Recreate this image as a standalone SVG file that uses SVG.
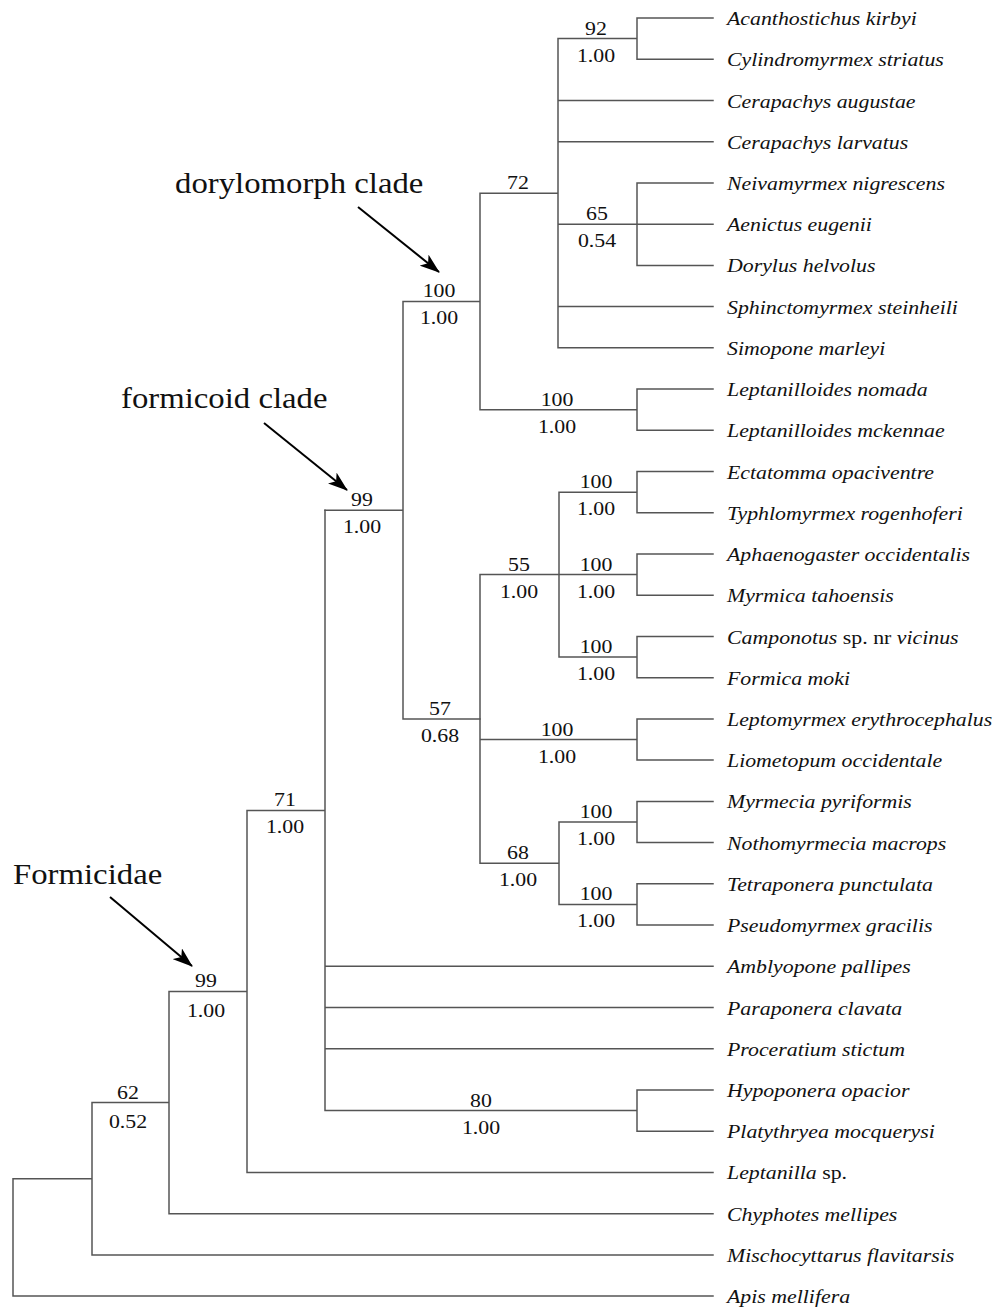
<svg xmlns="http://www.w3.org/2000/svg" width="996" height="1309" viewBox="0 0 996 1309">
<style>
.br{fill:none;stroke:#555;stroke-width:1.5;stroke-linecap:square}
.tip{font-family:"Liberation Serif","Times New Roman",serif;font-style:italic;font-size:19.5px;fill:#111}
.rm{font-style:normal}
.sv{font-family:"Liberation Serif","Times New Roman",serif;font-size:19.5px;fill:#111;text-anchor:middle}
.big{font-family:"Liberation Serif","Times New Roman",serif;font-size:29px;fill:#111}
.arr{fill:none;stroke:#000;stroke-width:2}
</style>
<defs>
<marker id="ah" viewBox="0 0 20 14" refX="19" refY="7" markerWidth="20" markerHeight="14" orient="auto" markerUnits="userSpaceOnUse">
<path d="M0,0 L20,7 L0,14 L5,7 z" fill="#000"/>
</marker>
</defs>
<rect width="996" height="1309" fill="#fff"/>
<g id="connectors">
<path class="br" d="M13,1178.7V1296.1H713M13,1178.7H92M92,1102.5V1254.9H713M92,1102.5H169M169,991.4V1213.7H713M169,991.4H247M247,810.4V1172.4H713M247,810.4H325M325,510.2V1110.6H637M325,966.3H713M325,1007.5H713M325,1048.8H713M637,1090V1131.2M637,1090H713M637,1131.2H713"/>
<path class="br" d="M325,510.2H403M403,301.45V718.9H480M403,301.45H480M480,193.2V409.7H637M480,193.2H558M558,38.6V347.8H713M558,38.6H637M637,18V59.2M637,18H713M637,59.2H713M558,100.5H713M558,141.7H713M558,306.6H713M558,224.2H713M637,182.9V265.4M637,182.9H713M637,265.4H713M637,389.1V430.3M637,389.1H713M637,430.3H713"/>
<path class="br" d="M480,574.6V863.2H559M480,574.6H559M559,492.15V657.1H637M559,492.15H637M559,574.6H637M637,471.5V512.8M637,471.5H713M637,512.8H713M637,554V595.2M637,554H713M637,595.2H713M637,636.5V677.7M637,636.5H713M637,677.7H713M480,739.5H637M637,718.9V760.1M637,718.9H713M637,760.1H713M559,822V904.45M559,822H637M559,904.45H637M637,801.4V842.6M637,801.4H713M637,842.6H713M637,883.8V925.1M637,883.8H713M637,925.1H713"/>
<path class="arr" d="M358,207L439,272" marker-end="url(#ah)"/>
<path class="arr" d="M264,423L347,490" marker-end="url(#ah)"/>
<path class="arr" d="M110,897L192,966" marker-end="url(#ah)"/>
</g>
<g id="clade-labels">
<text class="big" transform="translate(175,193) scale(1.13,1)">dorylomorph clade</text>
<text class="big" transform="translate(121,408) scale(1.13,1)">formicoid clade</text>
<text class="big" transform="translate(13,884) scale(1.13,1)">Formicidae</text>
</g>
<g id="tips">
<g id="t0"><text class="tip" transform="translate(727,25) scale(1.12,1)">Acanthostichus kirbyi</text></g>
<g id="t1"><text class="tip" transform="translate(727,66.2) scale(1.12,1)">Cylindromyrmex striatus</text></g>
<g id="t2"><text class="tip" transform="translate(727,107.5) scale(1.12,1)">Cerapachys augustae</text></g>
<g id="t3"><text class="tip" transform="translate(727,148.7) scale(1.12,1)">Cerapachys larvatus</text></g>
<g id="t4"><text class="tip" transform="translate(727,189.9) scale(1.12,1)">Neivamyrmex nigrescens</text></g>
<g id="t5"><text class="tip" transform="translate(727,231.2) scale(1.12,1)">Aenictus eugenii</text></g>
<g id="t6"><text class="tip" transform="translate(727,272.4) scale(1.12,1)">Dorylus helvolus</text></g>
<g id="t7"><text class="tip" transform="translate(727,313.6) scale(1.12,1)">Sphinctomyrmex steinheili</text></g>
<g id="t8"><text class="tip" transform="translate(727,354.8) scale(1.12,1)">Simopone marleyi</text></g>
<g id="t9"><text class="tip" transform="translate(727,396.1) scale(1.12,1)">Leptanilloides nomada</text></g>
<g id="t10"><text class="tip" transform="translate(727,437.3) scale(1.12,1)">Leptanilloides mckennae</text></g>
<g id="t11"><text class="tip" transform="translate(727,478.5) scale(1.12,1)">Ectatomma opaciventre</text></g>
<g id="t12"><text class="tip" transform="translate(727,519.8) scale(1.12,1)">Typhlomyrmex rogenhoferi</text></g>
<g id="t13"><text class="tip" transform="translate(727,561) scale(1.12,1)">Aphaenogaster occidentalis</text></g>
<g id="t14"><text class="tip" transform="translate(727,602.2) scale(1.12,1)">Myrmica tahoensis</text></g>
<g id="t15"><text class="tip" transform="translate(727,643.5) scale(1.12,1)">Camponotus<tspan class="rm"> sp. nr </tspan>vicinus</text></g>
<g id="t16"><text class="tip" transform="translate(727,684.7) scale(1.12,1)">Formica moki</text></g>
<g id="t17"><text class="tip" transform="translate(727,725.9) scale(1.12,1)">Leptomyrmex erythrocephalus</text></g>
<g id="t18"><text class="tip" transform="translate(727,767.1) scale(1.12,1)">Liometopum occidentale</text></g>
<g id="t19"><text class="tip" transform="translate(727,808.4) scale(1.12,1)">Myrmecia pyriformis</text></g>
<g id="t20"><text class="tip" transform="translate(727,849.6) scale(1.12,1)">Nothomyrmecia macrops</text></g>
<g id="t21"><text class="tip" transform="translate(727,890.8) scale(1.12,1)">Tetraponera punctulata</text></g>
<g id="t22"><text class="tip" transform="translate(727,932.1) scale(1.12,1)">Pseudomyrmex gracilis</text></g>
<g id="t23"><text class="tip" transform="translate(727,973.3) scale(1.12,1)">Amblyopone pallipes</text></g>
<g id="t24"><text class="tip" transform="translate(727,1014.5) scale(1.12,1)">Paraponera clavata</text></g>
<g id="t25"><text class="tip" transform="translate(727,1055.8) scale(1.12,1)">Proceratium stictum</text></g>
<g id="t26"><text class="tip" transform="translate(727,1097) scale(1.12,1)">Hypoponera opacior</text></g>
<g id="t27"><text class="tip" transform="translate(727,1138.2) scale(1.12,1)">Platythryea mocquerysi</text></g>
<g id="t28"><text class="tip" transform="translate(727,1179.4) scale(1.12,1)">Leptanilla<tspan class="rm"> sp.</tspan></text></g>
<g id="t29"><text class="tip" transform="translate(727,1220.7) scale(1.12,1)">Chyphotes mellipes</text></g>
<g id="t30"><text class="tip" transform="translate(727,1261.9) scale(1.12,1)">Mischocyttarus flavitarsis</text></g>
<g id="t31"><text class="tip" transform="translate(727,1303.1) scale(1.12,1)">Apis mellifera</text></g>
</g>
<g id="support">
<g id="n92"><text class="sv" transform="translate(596,34.6) scale(1.12,1)">92</text><text class="sv" transform="translate(596,61.6) scale(1.12,1)">1.00</text></g>
<g id="n72"><text class="sv" transform="translate(518,189.2) scale(1.12,1)">72</text></g>
<g id="n65"><text class="sv" transform="translate(597,220.2) scale(1.12,1)">65</text><text class="sv" transform="translate(597,247.2) scale(1.12,1)">0.54</text></g>
<g id="n100d"><text class="sv" transform="translate(439,297.4) scale(1.12,1)">100</text><text class="sv" transform="translate(439,324.4) scale(1.12,1)">1.00</text></g>
<g id="n100l"><text class="sv" transform="translate(557,405.7) scale(1.12,1)">100</text><text class="sv" transform="translate(557,432.7) scale(1.12,1)">1.00</text></g>
<g id="n99fc"><text class="sv" transform="translate(362,506.2) scale(1.12,1)">99</text><text class="sv" transform="translate(362,533.2) scale(1.12,1)">1.00</text></g>
<g id="n100e"><text class="sv" transform="translate(596,488.2) scale(1.12,1)">100</text><text class="sv" transform="translate(596,515.2) scale(1.12,1)">1.00</text></g>
<g id="n55"><text class="sv" transform="translate(519,570.6) scale(1.12,1)">55</text><text class="sv" transform="translate(519,597.6) scale(1.12,1)">1.00</text></g>
<g id="n100a"><text class="sv" transform="translate(596,570.6) scale(1.12,1)">100</text><text class="sv" transform="translate(596,597.6) scale(1.12,1)">1.00</text></g>
<g id="n100c"><text class="sv" transform="translate(596,653.1) scale(1.12,1)">100</text><text class="sv" transform="translate(596,680.1) scale(1.12,1)">1.00</text></g>
<g id="n57"><text class="sv" transform="translate(440,714.9) scale(1.12,1)">57</text><text class="sv" transform="translate(440,741.9) scale(1.12,1)">0.68</text></g>
<g id="n100lm"><text class="sv" transform="translate(557,735.5) scale(1.12,1)">100</text><text class="sv" transform="translate(557,762.5) scale(1.12,1)">1.00</text></g>
<g id="n100m"><text class="sv" transform="translate(596,818) scale(1.12,1)">100</text><text class="sv" transform="translate(596,845) scale(1.12,1)">1.00</text></g>
<g id="n68"><text class="sv" transform="translate(518,859.2) scale(1.12,1)">68</text><text class="sv" transform="translate(518,886.2) scale(1.12,1)">1.00</text></g>
<g id="n100t"><text class="sv" transform="translate(596,900.4) scale(1.12,1)">100</text><text class="sv" transform="translate(596,927.4) scale(1.12,1)">1.00</text></g>
<g id="n71"><text class="sv" transform="translate(285,806.4) scale(1.12,1)">71</text><text class="sv" transform="translate(285,833.4) scale(1.12,1)">1.00</text></g>
<g id="n99F"><text class="sv" transform="translate(206,987.4) scale(1.12,1)">99</text><text class="sv" transform="translate(206,1017.4) scale(1.12,1)">1.00</text></g>
<g id="n80"><text class="sv" transform="translate(481,1106.6) scale(1.12,1)">80</text><text class="sv" transform="translate(481,1133.6) scale(1.12,1)">1.00</text></g>
<g id="n62"><text class="sv" transform="translate(128,1098.5) scale(1.12,1)">62</text><text class="sv" transform="translate(128,1127.5) scale(1.12,1)">0.52</text></g>
</g>
</svg>
